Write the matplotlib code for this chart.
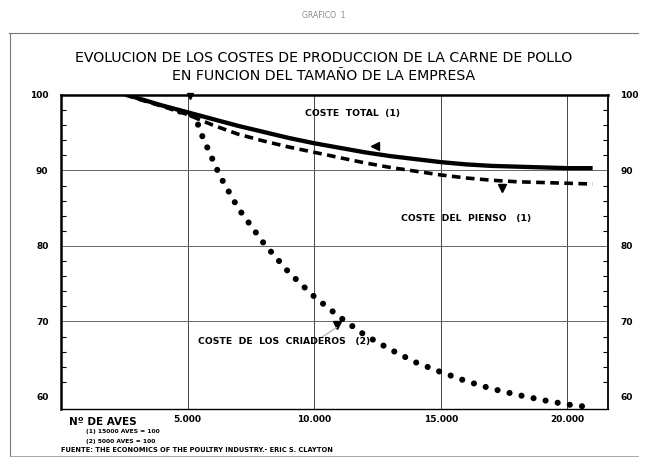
import matplotlib
matplotlib.use("Agg")
import matplotlib.pyplot as plt
import matplotlib.transforms as mtransforms
from matplotlib.lines import Line2D

# data (index, first size = 100)
aves_total = [2000, 3000, 4000, 5000, 6000, 7000, 8000, 9000, 10000, 11000,
              12000, 13000, 14000, 15000, 16000, 17000, 18000, 19000, 20000, 21000]
coste_total = [100.8, 99.6, 98.6, 97.7, 96.8, 95.9, 95.1, 94.3, 93.6, 93.0,
               92.4, 91.9, 91.5, 91.1, 90.8, 90.6, 90.5, 90.4, 90.3, 90.3]

aves_pienso = aves_total
coste_pienso = [100.6, 99.5, 98.5, 97.4, 96.0, 94.8, 93.9, 93.1, 92.4, 91.7,
                91.0, 90.4, 89.9, 89.4, 89.0, 88.7, 88.5, 88.4, 88.3, 88.2]

aves_criad = [4700, 5000, 5300, 5600, 6275, 7000, 8000, 9000, 10000, 11000, 12000,
              13000, 14000, 15000, 16000, 17000, 18000, 19000, 20000, 21000]
coste_criad = [97.8, 97.6, 97.1, 94.4, 89.3, 85.0, 80.4, 76.5, 73.3, 70.6, 68.2,
               66.3, 64.6, 63.3, 62.1, 61.1, 60.3, 59.6, 59.0, 58.6]

xticks = [5000, 10000, 15000, 20000]
xtick_labels = ["5.000", "10.000", "15.000", "20.000"]
yticks = [60, 70, 80, 90, 100]
ytick_labels = ["60", "70", "80", "90", "100"]

fig = plt.figure(figsize=(6.48, 4.63), dpi=100)
ax = fig.add_axes([0.094, 0.1166, 0.844, 0.6784])

ax.plot(aves_total, coste_total, color="black", lw=3.1, solid_capstyle="butt")
ax.plot(aves_pienso, coste_pienso, color="black", lw=2.6,
        linestyle=(0, (2.4, 1.5)))
ax.plot(aves_criad, coste_criad, color="black", lw=4.4,
        linestyle=(0, (0.01, 2.0)), dash_capstyle="round")

ax.set_xlim(0, 21600)
ax.set_ylim(58.4, 100)

# grid
for x in xticks:
    ax.axvline(x, color="#444444", lw=0.7, zorder=0)
for y in [70, 80, 90]:
    ax.axhline(y, color="#666666", lw=0.7, zorder=0)

ax.set_xticks(xticks)
ax.set_xticklabels(xtick_labels, fontsize=6.5, fontweight="bold")
ax.tick_params(axis="x", length=0, pad=4)

ax.set_yticks(yticks)
ax.set_yticklabels(ytick_labels, fontsize=6.5, fontweight="bold")
ax.set_yticks(range(60, 100, 2), minor=True)
ax.tick_params(axis="y", which="major", length=0, left=True, right=True,
               labelleft=True, labelright=True, pad=9)
ax.tick_params(axis="y", which="minor", direction="in", length=3.5,
               left=True, right=True, width=0.8)

ax.spines["left"].set_linewidth(1.8)
ax.spines["top"].set_linewidth(1.8)
ax.spines["right"].set_linewidth(1.3)
ax.spines["bottom"].set_linewidth(1.0)

trans = mtransforms.blended_transform_factory(ax.transData, ax.transAxes)
ax.text(300, -0.027, "Nº DE AVES", transform=trans, fontsize=7.5,
        fontweight="bold", ha="left", va="top")

# curve labels and arrow marks
ax.text(11500, 97.6, "COSTE  TOTAL  (1)", fontsize=6.7, fontweight="bold",
        ha="center", va="center")
ax.text(16000, 83.6, "COSTE  DEL  PIENSO   (1)", fontsize=6.7, fontweight="bold",
        ha="center", va="center")
ax.text(8800, 67.3, "COSTE  DE  LOS  CRIADEROS   (2)", fontsize=6.7,
        fontweight="bold", ha="center", va="center")
ax.plot([12400], [93.2], marker="<", color="black", markersize=6)
ax.plot([17440], [87.7], marker="v", color="black", markersize=6)
ax.plot([10890], [69.5], marker="v", color="black", markersize=6)
ax.plot([5090], [99.8], marker="v", color="black", markersize=4, clip_on=False)
ax.plot([10890, 10300], [69.2, 67.9], color="#aaaaaa", lw=0.8)

# titles
fig.text(0.5, 0.967, "GRAFICO  1", fontsize=5.5, color="#888888", ha="center",
         va="center")
fig.text(0.5, 0.875, "EVOLUCION DE LOS COSTES DE PRODUCCION DE LA CARNE DE POLLO",
         fontsize=10.2, ha="center", va="center")
fig.text(0.5, 0.836, "EN FUNCION DEL TAMAÑO DE LA EMPRESA",
         fontsize=10.2, ha="center", va="center")

# footnotes
fig.text(0.132, 0.067, "(1) 15000 AVES = 100", fontsize=4.3, fontweight="bold",
         va="center")
fig.text(0.132, 0.047, "(2) 5000 AVES = 100", fontsize=4.3, fontweight="bold",
         va="center")
fig.text(0.094, 0.027,
         "FUENTE: THE ECONOMICS OF THE POULTRY INDUSTRY.- ERIC S. CLAYTON",
         fontsize=4.8, fontweight="bold", va="center")

# frame of the scanned page
fig.add_artist(Line2D([0.014, 0.985], [0.928, 0.928], color="#777777", lw=0.8))
fig.add_artist(Line2D([0.016, 0.016], [0.928, 0.015], color="#777777", lw=0.8))
fig.add_artist(Line2D([0.016, 0.985], [0.015, 0.015], color="#999999", lw=0.6))

fig.savefig("out.png", dpi=100)
